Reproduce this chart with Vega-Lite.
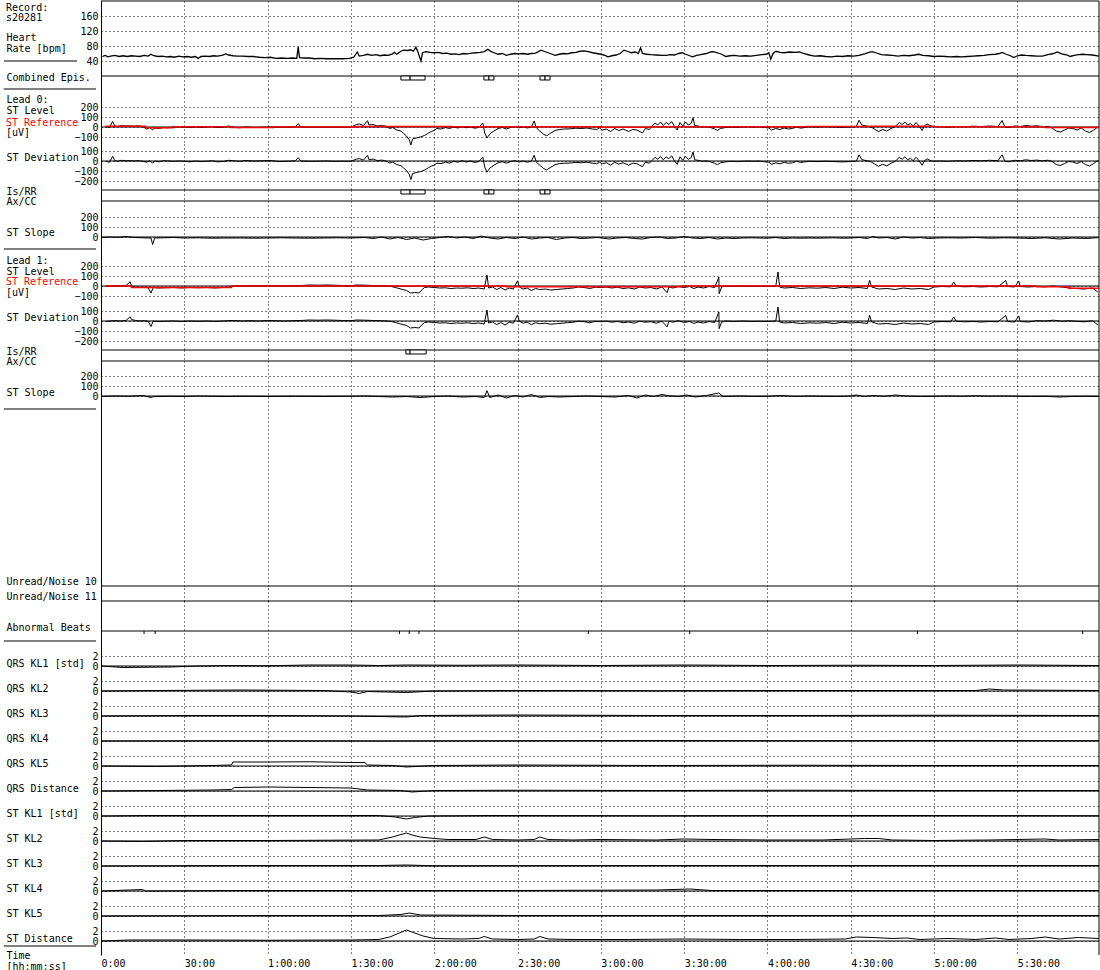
{
"$schema": "https://vega.github.io/schema/vega-lite/v6.json",
"background": "white",
"padding": {"left": 3, "top": 0, "right": 1, "bottom": 1},
"spacing": 0,
"bounds": "flush",
"config": {
 "view": {"stroke": null},
 "axisX": {"grid": true, "gridColor": "#000", "gridDash": [1,3], "gridOpacity": 1, "gridWidth": 1, "ticks": false, "domain": false, "labels": false, "tickCount": 50, "labelFont": "DejaVu Sans Mono", "labelFontSize": 10, "labelColor": "#000", "titleFont": "DejaVu Sans Mono", "titleFontSize": 10, "titleFontWeight": "normal", "titleColor": "#000"},
 "axisY": {"domainColor": "#000", "domainWidth": 1, "ticks": false, "grid": true, "gridColor": "#000", "gridDash": [1,3], "gridOpacity": 1, "gridWidth": 1, "tickCount": 50, "format": "d", "labelFont": "DejaVu Sans Mono", "labelFontSize": 10, "labelColor": "#000", "labelPadding": 3, "labelOverlap": false, "labelFlush": false, "titleFont": "DejaVu Sans Mono", "titleFontSize": 10, "titleFontWeight": "normal", "titleColor": "#000", "titleAngle": 0, "titleAlign": "left", "titleBaseline": "top", "titleX": -95, "titleLineHeight": 11},
 "text": {"font": "DejaVu Sans Mono", "fontSize": 10, "align": "left", "baseline": "middle", "color": "#000"},
 "line": {"color": "#000", "strokeWidth": 1},
 "rule": {"color": "#000", "strokeWidth": 1}
},
"vconcat": [
{
 "width": 998, "height": 75, "data": {"values": [{}]},
 "layer": [
  {"data": {"values": [
{"t":0.5,"v":52},{"t":1.5,"v":55},{"t":2.5,"v":51},{"t":3.5,"v":53},{"t":5,"v":55},{"t":6.5,"v":52},{"t":8,"v":54},{"t":9.5,"v":52},{"t":11,"v":54},{"t":12.5,"v":53},{"t":14,"v":52},{"t":15.5,"v":55},{"t":17,"v":53},{"t":18,"v":58},{"t":19,"v":54},{"t":20.5,"v":52},{"t":22,"v":53},{"t":23.5,"v":51},{"t":25,"v":52},{"t":26.5,"v":50},{"t":28,"v":53},{"t":29.5,"v":51},{"t":31,"v":52},{"t":32.5,"v":50},{"t":34,"v":52},{"t":35,"v":47},{"t":36,"v":52},{"t":37.5,"v":53},{"t":39,"v":52},{"t":40.5,"v":54},{"t":42,"v":53},{"t":43.5,"v":55},{"t":45,"v":59},{"t":46,"v":56},{"t":47.5,"v":54},{"t":49,"v":53},{"t":51,"v":53},{"t":53,"v":52},{"t":55,"v":52},{"t":57,"v":50},{"t":59,"v":49},{"t":61,"v":50},{"t":63,"v":47},{"t":65,"v":48},{"t":67,"v":47},{"t":69,"v":48},{"t":70.5,"v":47},{"t":71,"v":77},{"t":71.5,"v":49},{"t":73,"v":48},{"t":75,"v":48},{"t":77,"v":46},{"t":79,"v":47},{"t":81,"v":46},{"t":83,"v":46},{"t":85,"v":46},{"t":87,"v":46},{"t":89.5,"v":47},{"t":91,"v":50},{"t":92.3,"v":64},{"t":93,"v":53},{"t":94.5,"v":55},{"t":96,"v":58},{"t":97.5,"v":55},{"t":99,"v":57},{"t":100.5,"v":54},{"t":102,"v":56},{"t":103.5,"v":55},{"t":105,"v":59},{"t":105.7,"v":63},{"t":106.5,"v":58},{"t":108,"v":66},{"t":109,"v":69},{"t":110.5,"v":68},{"t":111.5,"v":70},{"t":112.5,"v":66},{"t":113.4,"v":77},{"t":114,"v":67},{"t":115.2,"v":40},{"t":115.8,"v":62},{"t":117,"v":65},{"t":118.5,"v":63},{"t":120,"v":62},{"t":121.5,"v":63},{"t":123,"v":60},{"t":124.5,"v":61},{"t":126,"v":58},{"t":127.5,"v":59},{"t":129,"v":57},{"t":130.5,"v":60},{"t":132,"v":59},{"t":133.5,"v":61},{"t":135,"v":62},{"t":136.5,"v":63},{"t":138,"v":65},{"t":139.3,"v":71},{"t":140.5,"v":65},{"t":141.6,"v":62},{"t":143,"v":58},{"t":144.5,"v":60},{"t":146,"v":55},{"t":147.5,"v":58},{"t":149,"v":60},{"t":150.5,"v":59},{"t":152,"v":60},{"t":153.5,"v":58},{"t":155,"v":60},{"t":156.5,"v":61},{"t":157.5,"v":65},{"t":158.4,"v":69},{"t":159.5,"v":66},{"t":161,"v":62},{"t":162.5,"v":58},{"t":163.5,"v":55},{"t":165,"v":58},{"t":166.5,"v":60},{"t":168,"v":59},{"t":169.5,"v":62},{"t":171,"v":63},{"t":172.5,"v":66},{"t":174,"v":67},{"t":175.5,"v":65},{"t":177,"v":62},{"t":178.5,"v":60},{"t":180,"v":58},{"t":181.5,"v":55},{"t":182.5,"v":51},{"t":184,"v":54},{"t":185.5,"v":56},{"t":187,"v":60},{"t":188.3,"v":69},{"t":189.5,"v":66},{"t":191,"v":62},{"t":192.5,"v":64},{"t":193.5,"v":60},{"t":194.3,"v":75},{"t":195,"v":60},{"t":196.5,"v":58},{"t":198,"v":57},{"t":200,"v":56},{"t":202,"v":55},{"t":203.5,"v":55},{"t":205,"v":57},{"t":206.5,"v":56},{"t":208,"v":60},{"t":209.3,"v":62},{"t":210.5,"v":58},{"t":212,"v":54},{"t":213,"v":51},{"t":214.5,"v":55},{"t":216,"v":57},{"t":218,"v":60},{"t":219.5,"v":64},{"t":220.5,"v":65},{"t":222,"v":62},{"t":223.5,"v":58},{"t":225,"v":52},{"t":226.5,"v":54},{"t":228,"v":55},{"t":230,"v":53},{"t":232,"v":54},{"t":234,"v":53},{"t":236,"v":55},{"t":238,"v":57},{"t":239.5,"v":58},{"t":240.5,"v":62},{"t":241.2,"v":45},{"t":242,"v":60},{"t":243,"v":66},{"t":244.5,"v":63},{"t":246,"v":62},{"t":248,"v":64},{"t":250,"v":63},{"t":251.5,"v":64},{"t":253,"v":60},{"t":255,"v":56},{"t":257,"v":53},{"t":259,"v":54},{"t":261,"v":52},{"t":263,"v":51},{"t":265,"v":53},{"t":267,"v":52},{"t":269,"v":54},{"t":271,"v":53},{"t":273,"v":55},{"t":275,"v":59},{"t":276.5,"v":63},{"t":277.7,"v":65},{"t":279,"v":62},{"t":281,"v":57},{"t":283,"v":56},{"t":285,"v":55},{"t":287,"v":53},{"t":289,"v":55},{"t":291,"v":54},{"t":293,"v":56},{"t":294.5,"v":58},{"t":296,"v":55},{"t":298,"v":54},{"t":300,"v":52},{"t":302,"v":53},{"t":304,"v":52},{"t":306,"v":51},{"t":308,"v":52},{"t":310,"v":51},{"t":312,"v":52},{"t":314,"v":53},{"t":316,"v":54},{"t":318,"v":55},{"t":320,"v":57},{"t":322,"v":58},{"t":323.5,"v":60},{"t":324.5,"v":63},{"t":326,"v":58},{"t":327.5,"v":54},{"t":328.7,"v":49},{"t":330,"v":54},{"t":331.5,"v":56},{"t":333,"v":55},{"t":335,"v":54},{"t":337,"v":53},{"t":339,"v":53},{"t":341,"v":57},{"t":343,"v":60},{"t":344.4,"v":64},{"t":346,"v":59},{"t":348,"v":56},{"t":349,"v":52},{"t":350.5,"v":55},{"t":352,"v":57},{"t":353.4,"v":58},{"t":355,"v":57},{"t":357,"v":56},{"t":359.4,"v":53}
  ]}, "mark": {"type": "line", "strokeWidth": 1.3}, "encoding": {"x": {"field": "t", "type": "quantitative"}, "y": {"field": "v", "type": "quantitative", "scale": {"domain": [0,200], "nice": false, "zero": false}, "axis": {"values": [160,120,80,40], "tickCount": 50, "title": ["Heart","Rate [bpm]"], "titleY": 31.5, "titleLineHeight": 10.5}}}},
  {"mark": "rule", "encoding": {"x": {"datum": 359.4, "type": "quantitative", "scale": {"domain": [0,359.4], "nice": false}, "axis": {"values": [0,30,60,90,120,150,180,210,240,270,300,330], "title": null}}}},
  {"mark": "rule", "encoding": {"y": {"datum": 200}}},
  {"mark": "rule", "encoding": {"y": {"datum": 0}}},
  {"mark": "rule", "encoding": {"x": {"datum": -35}, "x2": {"datum": -8.64}, "y": {"datum": 40}}},
  {"mark": "text", "encoding": {"x": {"datum": -34.2}, "y": {"datum": 182}, "text": {"value": "Record:"}}},
  {"mark": "text", "encoding": {"x": {"datum": -34.2}, "y": {"datum": 155}, "text": {"value": "s20281"}}}
 ]
},
{
 "width": 998, "height": 13, "data": {"values": [{}]},
 "layer": [
  {"mark": "rule", "encoding": {"x": {"datum": 359.4, "type": "quantitative", "scale": {"domain": [0,359.4], "nice": false}, "axis": {"values": [0,30,60,90,120,150,180,210,240,270,300,330], "title": null}}}},
  {"mark": "rule", "encoding": {"x": {"datum": -35}, "x2": {"datum": -1.8}, "y": {"datum": -13, "type": "quantitative", "scale": {"domain": [-13,0], "nice": false}, "axis": {"values": [], "labels": false, "grid": false, "title": "Combined Epis.", "titleY": -4}}}},
  {"data": {"values": [{"s":108,"e":111.3},{"s":111.3,"e":116.7},{"s":137.9,"e":139.7},{"s":139.7,"e":141.5},{"s":158.1,"e":159.9},{"s":159.9,"e":161.7}]}, "mark": {"type": "rect", "fill": "#fff", "stroke": "#000", "strokeWidth": 1}, "encoding": {"x": {"field": "s", "type": "quantitative"}, "x2": {"field": "e"}, "y": {"datum": 0}, "y2": {"datum": -4}}}
 ]
},
{
 "width": 998, "height": 55, "data": {"values": [{}]},
 "layer": [
  {"mark": "rule", "encoding": {"x": {"datum": 359.4, "type": "quantitative", "scale": {"domain": [0,359.4], "nice": false}, "axis": {"values": [0,30,60,90,120,150,180,210,240,270,300,330], "title": null}}}},
  {"mark": "rule", "encoding": {"y": {"datum": 0, "type": "quantitative", "scale": {"domain": [-170,380], "nice": false}, "axis": {"values": [200,100,0,-100], "tickCount": 50, "title": ["Lead 0:","ST Level"], "titleY": 5, "titleLineHeight": 11.5}}}},
  {"data": {"name": "lead0"}, "mark": "line", "encoding": {"x": {"field": "t", "type": "quantitative"}, "y": {"field": "a", "type": "quantitative"}}},
  {"data": {"values": [{"t":1.5,"v":8},{"t":16,"v":-8},{"t":26,"v":3},{"t":47,"v":-5},{"t":62,"v":0},{"t":92,"v":6},{"t":126,"v":2},{"t":180,"v":-3},{"t":198,"v":3},{"t":254,"v":6},{"t":277,"v":8},{"t":300,"v":3},{"t":340,"v":-5},{"t":359.4,"v":-5}]}, "mark": {"type": "line", "color": "#ff0000", "strokeWidth": 1.5, "interpolate": "step-after"}, "encoding": {"x": {"field": "t", "type": "quantitative"}, "y": {"field": "v", "type": "quantitative"}}},
  {"mark": {"type": "text", "color": "#ff0000"}, "encoding": {"x": {"datum": -34.2}, "y": {"datum": 40}, "text": {"value": "ST Reference"}}},
  {"mark": "text", "encoding": {"x": {"datum": -34.2}, "y": {"datum": -60}, "text": {"value": "[uV]"}}}
 ]
},
{
 "width": 998, "height": 46, "data": {"values": [{}]},
 "layer": [
  {"mark": "rule", "encoding": {"x": {"datum": 359.4, "type": "quantitative", "scale": {"domain": [0,359.4], "nice": false}, "axis": {"values": [0,30,60,90,120,150,180,210,240,270,300,330], "title": null}}}},
  {"mark": "rule", "encoding": {"y": {"datum": 0, "type": "quantitative", "scale": {"domain": [-290,170], "nice": false}, "axis": {"values": [100,0,-100,-200], "tickCount": 50, "title": "ST Deviation", "titleY": 8}}}},
  {"data": {"name": "lead0"}, "mark": "line", "encoding": {"x": {"field": "t", "type": "quantitative"}, "y": {"field": "d", "type": "quantitative"}}}
 ]
},
{
 "width": 998, "height": 11, "data": {"values": [{}]},
 "layer": [
  {"mark": "rule", "encoding": {"x": {"datum": 359.4, "type": "quantitative", "scale": {"domain": [0,359.4], "nice": false}, "axis": {"values": [0,30,60,90,120,150,180,210,240,270,300,330], "title": null}}}},
  {"mark": "rule", "encoding": {"y": {"datum": 0, "type": "quantitative", "scale": {"domain": [-11,0], "nice": false}, "axis": {"values": [], "labels": false, "grid": false, "title": ["Is/RR","Ax/CC"], "titleY": -4, "titleLineHeight": 10}}}},
  {"mark": "rule", "encoding": {"y": {"datum": -11}}},
  {"data": {"values": [{"s":108,"e":111.3},{"s":111.3,"e":116.7},{"s":137.9,"e":139.7},{"s":139.7,"e":141.5},{"s":158.1,"e":159.9},{"s":159.9,"e":161.7}]}, "mark": {"type": "rect", "fill": "#fff", "stroke": "#000", "strokeWidth": 1}, "encoding": {"x": {"field": "s", "type": "quantitative"}, "x2": {"field": "e"}, "y": {"datum": 0}, "y2": {"datum": -4}}}
 ]
},
{
 "width": 998, "height": 48, "data": {"values": [{}]},
 "layer": [
  {"mark": "rule", "encoding": {"x": {"datum": 359.4, "type": "quantitative", "scale": {"domain": [0,359.4], "nice": false}, "axis": {"values": [0,30,60,90,120,150,180,210,240,270,300,330], "title": null}}}},
  {"mark": "rule", "encoding": {"y": {"datum": 0, "type": "quantitative", "scale": {"domain": [-120,360], "nice": false}, "axis": {"values": [200,100,0], "tickCount": 50, "title": "ST Slope", "titleY": 26}}}},
  {"mark": "rule", "encoding": {"x": {"datum": -35}, "x2": {"datum": -1.8}, "y": {"datum": -120}}},
  {"data": {"values": [
{"t":0,"v":-5},{"t":3,"v":0},{"t":6,"v":-3},{"t":9,"v":5},{"t":12,"v":-5},{"t":15,"v":-8},{"t":18,"v":-10},{"t":18.6,"v":-75},{"t":19.3,"v":-10},{"t":22,"v":-8},{"t":26,"v":-5},{"t":30,"v":-10},{"t":35,"v":-8},{"t":40,"v":-12},{"t":45,"v":-10},{"t":50,"v":-10},{"t":55,"v":-12},{"t":60,"v":-10},{"t":65,"v":-8},{"t":70,"v":-10},{"t":75,"v":-12},{"t":80,"v":-10},{"t":85,"v":-8},{"t":90,"v":-10},{"t":95,"v":-5},{"t":98,"v":-15},{"t":101,"v":0},{"t":104,"v":-20},{"t":107,"v":-5},{"t":110,"v":-25},{"t":113,"v":-10},{"t":116,"v":-30},{"t":119,"v":-15},{"t":122,"v":-5},{"t":125,"v":5},{"t":128,"v":-10},{"t":131,"v":0},{"t":134,"v":-15},{"t":137,"v":10},{"t":140,"v":-10},{"t":143,"v":-20},{"t":146,"v":-5},{"t":149,"v":-15},{"t":152,"v":0},{"t":155,"v":-20},{"t":158,"v":-10},{"t":161,"v":-5},{"t":164,"v":-25},{"t":167,"v":-10},{"t":170,"v":-5},{"t":173,"v":-15},{"t":176,"v":-10},{"t":179,"v":-5},{"t":183,"v":-20},{"t":186,"v":-10},{"t":189,"v":-5},{"t":192,"v":-15},{"t":195,"v":-20},{"t":198,"v":-5},{"t":201,"v":0},{"t":204,"v":-15},{"t":207,"v":-10},{"t":210,"v":5},{"t":213,"v":-10},{"t":216,"v":-15},{"t":219,"v":-5},{"t":222,"v":-20},{"t":225,"v":-10},{"t":228,"v":-15},{"t":231,"v":-10},{"t":234,"v":-8},{"t":237,"v":-10},{"t":240,"v":-12},{"t":243,"v":-5},{"t":246,"v":-15},{"t":249,"v":-10},{"t":252,"v":-12},{"t":255,"v":-10},{"t":258,"v":-12},{"t":261,"v":-10},{"t":264,"v":-8},{"t":267,"v":-12},{"t":270,"v":-10},{"t":273,"v":-5},{"t":276,"v":-15},{"t":278,"v":5},{"t":280,"v":-10},{"t":283,"v":-5},{"t":286,"v":-20},{"t":289,"v":0},{"t":292,"v":-10},{"t":295,"v":-5},{"t":298,"v":-15},{"t":301,"v":-10},{"t":305,"v":-8},{"t":310,"v":-10},{"t":315,"v":-5},{"t":320,"v":-12},{"t":325,"v":-8},{"t":330,"v":-10},{"t":335,"v":-15},{"t":340,"v":-8},{"t":345,"v":-20},{"t":350,"v":-10},{"t":355,"v":-15},{"t":359.4,"v":-5}
  ]}, "mark": "line", "encoding": {"x": {"field": "t", "type": "quantitative"}, "y": {"field": "v", "type": "quantitative"}}}
 ]
},
{
 "width": 998, "height": 55, "data": {"values": [{}]},
 "layer": [
  {"mark": "rule", "encoding": {"x": {"datum": 359.4, "type": "quantitative", "scale": {"domain": [0,359.4], "nice": false}, "axis": {"values": [0,30,60,90,120,150,180,210,240,270,300,330], "title": null}}}},
  {"mark": "rule", "encoding": {"y": {"datum": 0, "type": "quantitative", "scale": {"domain": [-180,370], "nice": false}, "axis": {"values": [200,100,0,-100], "tickCount": 50, "title": ["Lead 1:","ST Level"], "titleY": 6, "titleLineHeight": 11.5}}}},
  {"data": {"name": "lead1"}, "mark": "line", "encoding": {"x": {"field": "t", "type": "quantitative"}, "y": {"field": "a", "type": "quantitative"}}},
  {"data": {"values": [{"t":1.5,"v":0},{"t":11,"v":-15},{"t":47,"v":0},{"t":146,"v":-8},{"t":209,"v":0},{"t":337,"v":-8},{"t":348.6,"v":-22},{"t":359.4,"v":-22}]}, "mark": {"type": "line", "color": "#ff0000", "strokeWidth": 1.5, "interpolate": "step-after"}, "encoding": {"x": {"field": "t", "type": "quantitative"}, "y": {"field": "v", "type": "quantitative"}}},
  {"mark": {"type": "text", "color": "#ff0000"}, "encoding": {"x": {"datum": -34.2}, "y": {"datum": 40}, "text": {"value": "ST Reference"}}},
  {"mark": "text", "encoding": {"x": {"datum": -34.2}, "y": {"datum": -70}, "text": {"value": "[uV]"}}}
 ]
},
{
 "width": 998, "height": 46, "data": {"values": [{}]},
 "layer": [
  {"mark": "rule", "encoding": {"x": {"datum": 359.4, "type": "quantitative", "scale": {"domain": [0,359.4], "nice": false}, "axis": {"values": [0,30,60,90,120,150,180,210,240,270,300,330], "title": null}}}},
  {"mark": "rule", "encoding": {"y": {"datum": 0, "type": "quantitative", "scale": {"domain": [-290,170], "nice": false}, "axis": {"values": [100,0,-100,-200], "tickCount": 50, "title": "ST Deviation", "titleY": 8}}}},
  {"data": {"name": "lead1"}, "mark": "line", "encoding": {"x": {"field": "t", "type": "quantitative"}, "y": {"field": "d", "type": "quantitative"}}}
 ]
},
{
 "width": 998, "height": 11, "data": {"values": [{}]},
 "layer": [
  {"mark": "rule", "encoding": {"x": {"datum": 359.4, "type": "quantitative", "scale": {"domain": [0,359.4], "nice": false}, "axis": {"values": [0,30,60,90,120,150,180,210,240,270,300,330], "title": null}}}},
  {"mark": "rule", "encoding": {"y": {"datum": 0, "type": "quantitative", "scale": {"domain": [-11,0], "nice": false}, "axis": {"values": [], "labels": false, "grid": false, "title": ["Is/RR","Ax/CC"], "titleY": -4, "titleLineHeight": 10}}}},
  {"mark": "rule", "encoding": {"y": {"datum": -11}}},
  {"data": {"values": [{"s":109.8,"e":111.3},{"s":111.3,"e":117.1}]}, "mark": {"type": "rect", "fill": "#fff", "stroke": "#000", "strokeWidth": 1}, "encoding": {"x": {"field": "s", "type": "quantitative"}, "x2": {"field": "e"}, "y": {"datum": 0}, "y2": {"datum": -4}}}
 ]
},
{
 "width": 998, "height": 48, "data": {"values": [{}]},
 "layer": [
  {"mark": "rule", "encoding": {"x": {"datum": 359.4, "type": "quantitative", "scale": {"domain": [0,359.4], "nice": false}, "axis": {"values": [0,30,60,90,120,150,180,210,240,270,300,330], "title": null}}}},
  {"mark": "rule", "encoding": {"y": {"datum": 0, "type": "quantitative", "scale": {"domain": [-130,350], "nice": false}, "axis": {"values": [200,100,0], "tickCount": 50, "title": "ST Slope", "titleY": 26}}}},
  {"mark": "rule", "encoding": {"x": {"datum": -35}, "x2": {"datum": -1.8}, "y": {"datum": -130}}},
  {"data": {"values": [
{"t":0,"v":-5},{"t":5,"v":0},{"t":10,"v":-3},{"t":15,"v":5},{"t":18,"v":-15},{"t":19,"v":-5},{"t":25,"v":-3},{"t":30,"v":-5},{"t":35,"v":0},{"t":40,"v":-3},{"t":45,"v":-5},{"t":50,"v":-3},{"t":60,"v":-5},{"t":70,"v":-3},{"t":80,"v":-5},{"t":90,"v":-3},{"t":95,"v":0},{"t":100,"v":-5},{"t":105,"v":-10},{"t":110,"v":-5},{"t":115,"v":-15},{"t":120,"v":-5},{"t":125,"v":0},{"t":130,"v":-10},{"t":135,"v":-5},{"t":138,"v":-15},{"t":139,"v":53},{"t":140,"v":-15},{"t":143,"v":10},{"t":146,"v":-20},{"t":149,"v":5},{"t":152,"v":-10},{"t":155,"v":15},{"t":158,"v":-15},{"t":161,"v":-5},{"t":165,"v":-10},{"t":170,"v":-5},{"t":175,"v":0},{"t":180,"v":-5},{"t":185,"v":-10},{"t":190,"v":5},{"t":193,"v":-20},{"t":196,"v":10},{"t":199,"v":-5},{"t":202,"v":15},{"t":205,"v":0},{"t":208,"v":-5},{"t":211,"v":10},{"t":214,"v":-10},{"t":218,"v":5},{"t":222.5,"v":30},{"t":224,"v":-5},{"t":230,"v":0},{"t":235,"v":-5},{"t":240,"v":-3},{"t":245,"v":5},{"t":250,"v":-5},{"t":255,"v":0},{"t":260,"v":-3},{"t":265,"v":-5},{"t":270,"v":0},{"t":272,"v":10},{"t":275,"v":-5},{"t":278,"v":5},{"t":282,"v":-3},{"t":286,"v":10},{"t":290,"v":0},{"t":295,"v":-5},{"t":300,"v":-3},{"t":305,"v":0},{"t":310,"v":-3},{"t":315,"v":2},{"t":320,"v":-2},{"t":325,"v":0},{"t":330,"v":-3},{"t":335,"v":-5},{"t":340,"v":-3},{"t":345,"v":-10},{"t":350,"v":-5},{"t":355,"v":-3},{"t":359.4,"v":-5}
  ]}, "mark": "line", "encoding": {"x": {"field": "t", "type": "quantitative"}, "y": {"field": "v", "type": "quantitative"}}}
 ]
},
{
 "width": 998, "height": 177, "data": {"values": [{}]},
 "layer": [
  {"mark": "rule", "encoding": {"x": {"datum": 359.4, "type": "quantitative", "scale": {"domain": [0,359.4], "nice": false}, "axis": {"values": [0,30,60,90,120,150,180,210,240,270,300,330], "title": null}}}},
  {"mark": "rule", "encoding": {"y": {"datum": 0, "type": "quantitative", "scale": {"domain": [0,1], "nice": false}, "axis": {"values": [], "labels": false, "grid": false, "title": "Unread/Noise 10", "titleY": 167}}}}
 ]
},
{
 "width": 998, "height": 15, "data": {"values": [{}]},
 "layer": [
  {"mark": "rule", "encoding": {"x": {"datum": 359.4, "type": "quantitative", "scale": {"domain": [0,359.4], "nice": false}, "axis": {"values": [0,30,60,90,120,150,180,210,240,270,300,330], "title": null}}}},
  {"mark": "rule", "encoding": {"y": {"datum": 0, "type": "quantitative", "scale": {"domain": [0,1], "nice": false}, "axis": {"values": [], "labels": false, "grid": false, "title": "Unread/Noise 11", "titleY": 5}}}}
 ]
},
{
 "width": 998, "height": 40, "data": {"values": [{}]},
 "layer": [
  {"mark": "rule", "encoding": {"x": {"datum": 359.4, "type": "quantitative", "scale": {"domain": [0,359.4], "nice": false}, "axis": {"values": [0,30,60,90,120,150,180,210,240,270,300,330], "title": null}}}},
  {"mark": "rule", "encoding": {"y": {"datum": 0, "type": "quantitative", "scale": {"domain": [-10,30], "nice": false}, "axis": {"values": [], "labels": false, "grid": false, "title": "Abnormal Beats", "titleY": 21}}}},
  {"mark": "rule", "encoding": {"x": {"datum": -35}, "x2": {"datum": -1.8}, "y": {"datum": -10}}},
  {"data": {"values": [{"t":15.5},{"t":19.5},{"t":107.5},{"t":111},{"t":114.5},{"t":175.5},{"t":212},{"t":294},{"t":353.5}]}, "mark": "rule", "encoding": {"x": {"field": "t", "type": "quantitative"}, "y": {"datum": 0}, "y2": {"datum": -3}}}
 ]
},
{
 "width": 998, "height": 25, "data": {"values": [{}]},
 "layer": [
  {"mark": "rule", "encoding": {"x": {"datum": 359.4, "type": "quantitative", "scale": {"domain": [0,359.4], "nice": false}, "axis": {"values": [0,30,60,90,120,150,180,210,240,270,300,330], "title": null}}}},
  {"mark": "rule", "encoding": {"y": {"datum": 0, "type": "quantitative", "scale": {"domain": [0,5], "nice": false}, "axis": {"values": [2,0], "tickCount": 50, "title": "QRS KL1 [std]", "titleY": 17}}}},
  {"data": {"values": [{"t":0,"v":0},{"t":8,"v":-0.3},{"t":25,"v":-0.2},{"t":35,"v":0},{"t":45,"v":0.1},{"t":60,"v":0.05},{"t":75,"v":0.2},{"t":90,"v":0.2},{"t":100,"v":0.1},{"t":110,"v":0.2},{"t":130,"v":0.15},{"t":150,"v":0.2},{"t":180,"v":0.1},{"t":210,"v":0.2},{"t":240,"v":0.1},{"t":270,"v":0.15},{"t":300,"v":0.1},{"t":330,"v":0.2},{"t":359.4,"v":0.1}]}, "mark": "line", "encoding": {"x": {"field": "t", "type": "quantitative"}, "y": {"field": "v", "type": "quantitative"}}}
 ]
},
{
 "width": 998, "height": 25, "data": {"values": [{}]},
 "layer": [
  {"mark": "rule", "encoding": {"x": {"datum": 359.4, "type": "quantitative", "scale": {"domain": [0,359.4], "nice": false}, "axis": {"values": [0,30,60,90,120,150,180,210,240,270,300,330], "title": null}}}},
  {"mark": "rule", "encoding": {"y": {"datum": 0, "type": "quantitative", "scale": {"domain": [0,5], "nice": false}, "axis": {"values": [2,0], "tickCount": 50, "title": "QRS KL2", "titleY": 17}}}},
  {"data": {"values": [{"t":0,"v":0},{"t":20,"v":0.1},{"t":50,"v":0.2},{"t":80,"v":0.1},{"t":90,"v":-0.2},{"t":93,"v":-0.5},{"t":96,"v":-0.1},{"t":110,"v":-0.3},{"t":120,"v":0},{"t":150,"v":0.1},{"t":200,"v":0.05},{"t":250,"v":0.1},{"t":300,"v":0.1},{"t":315,"v":0.1},{"t":320,"v":0.4},{"t":325,"v":0.2},{"t":359.4,"v":0.1}]}, "mark": "line", "encoding": {"x": {"field": "t", "type": "quantitative"}, "y": {"field": "v", "type": "quantitative"}}}
 ]
},
{
 "width": 998, "height": 25, "data": {"values": [{}]},
 "layer": [
  {"mark": "rule", "encoding": {"x": {"datum": 359.4, "type": "quantitative", "scale": {"domain": [0,359.4], "nice": false}, "axis": {"values": [0,30,60,90,120,150,180,210,240,270,300,330], "title": null}}}},
  {"mark": "rule", "encoding": {"y": {"datum": 0, "type": "quantitative", "scale": {"domain": [0,5], "nice": false}, "axis": {"values": [2,0], "tickCount": 50, "title": "QRS KL3", "titleY": 17}}}},
  {"data": {"values": [{"t":0,"v":0},{"t":30,"v":0.1},{"t":60,"v":0.1},{"t":90,"v":0},{"t":110,"v":-0.2},{"t":115,"v":0.1},{"t":150,"v":0.2},{"t":200,"v":0.1},{"t":250,"v":0.1},{"t":300,"v":0.15},{"t":359.4,"v":0.1}]}, "mark": "line", "encoding": {"x": {"field": "t", "type": "quantitative"}, "y": {"field": "v", "type": "quantitative"}}}
 ]
},
{
 "width": 998, "height": 25, "data": {"values": [{}]},
 "layer": [
  {"mark": "rule", "encoding": {"x": {"datum": 359.4, "type": "quantitative", "scale": {"domain": [0,359.4], "nice": false}, "axis": {"values": [0,30,60,90,120,150,180,210,240,270,300,330], "title": null}}}},
  {"mark": "rule", "encoding": {"y": {"datum": 0, "type": "quantitative", "scale": {"domain": [0,5], "nice": false}, "axis": {"values": [2,0], "tickCount": 50, "title": "QRS KL4", "titleY": 17}}}},
  {"data": {"values": [{"t":0,"v":0},{"t":50,"v":0.05},{"t":100,"v":0},{"t":150,"v":0.05},{"t":200,"v":0.1},{"t":250,"v":0.05},{"t":300,"v":0.1},{"t":359.4,"v":0.05}]}, "mark": "line", "encoding": {"x": {"field": "t", "type": "quantitative"}, "y": {"field": "v", "type": "quantitative"}}}
 ]
},
{
 "width": 998, "height": 25, "data": {"values": [{}]},
 "layer": [
  {"mark": "rule", "encoding": {"x": {"datum": 359.4, "type": "quantitative", "scale": {"domain": [0,359.4], "nice": false}, "axis": {"values": [0,30,60,90,120,150,180,210,240,270,300,330], "title": null}}}},
  {"mark": "rule", "encoding": {"y": {"datum": 0, "type": "quantitative", "scale": {"domain": [0,5], "nice": false}, "axis": {"values": [2,0], "tickCount": 50, "title": "QRS KL5", "titleY": 17}}}},
  {"data": {"values": [{"t":0,"v":0},{"t":20,"v":-0.1},{"t":40,"v":0.1},{"t":47,"v":0.2},{"t":47.5,"v":0.8},{"t":60,"v":0.8},{"t":75,"v":0.85},{"t":90,"v":0.7},{"t":95,"v":0.7},{"t":96,"v":0.2},{"t":105,"v":0.1},{"t":110,"v":-0.2},{"t":120,"v":0.1},{"t":150,"v":0.2},{"t":200,"v":0.1},{"t":250,"v":0.15},{"t":300,"v":0.1},{"t":359.4,"v":0.1}]}, "mark": "line", "encoding": {"x": {"field": "t", "type": "quantitative"}, "y": {"field": "v", "type": "quantitative"}}}
 ]
},
{
 "width": 998, "height": 25, "data": {"values": [{}]},
 "layer": [
  {"mark": "rule", "encoding": {"x": {"datum": 359.4, "type": "quantitative", "scale": {"domain": [0,359.4], "nice": false}, "axis": {"values": [0,30,60,90,120,150,180,210,240,270,300,330], "title": null}}}},
  {"mark": "rule", "encoding": {"y": {"datum": 0, "type": "quantitative", "scale": {"domain": [0,5], "nice": false}, "axis": {"values": [2,0], "tickCount": 50, "title": "QRS Distance", "titleY": 17}}}},
  {"data": {"values": [{"t":0,"v":0},{"t":20,"v":0.1},{"t":40,"v":0.2},{"t":47,"v":0.3},{"t":48,"v":0.7},{"t":60,"v":0.8},{"t":75,"v":0.7},{"t":90,"v":0.6},{"t":96,"v":0.2},{"t":108,"v":0.1},{"t":112,"v":-0.2},{"t":120,"v":0.1},{"t":150,"v":0.15},{"t":200,"v":0.1},{"t":250,"v":0.15},{"t":300,"v":0.1},{"t":359.4,"v":0.1}]}, "mark": "line", "encoding": {"x": {"field": "t", "type": "quantitative"}, "y": {"field": "v", "type": "quantitative"}}}
 ]
},
{
 "width": 998, "height": 25, "data": {"values": [{}]},
 "layer": [
  {"mark": "rule", "encoding": {"x": {"datum": 359.4, "type": "quantitative", "scale": {"domain": [0,359.4], "nice": false}, "axis": {"values": [0,30,60,90,120,150,180,210,240,270,300,330], "title": null}}}},
  {"mark": "rule", "encoding": {"y": {"datum": 0, "type": "quantitative", "scale": {"domain": [0,5], "nice": false}, "axis": {"values": [2,0], "tickCount": 50, "title": "ST KL1 [std]", "titleY": 17}}}},
  {"data": {"values": [{"t":0,"v":0},{"t":15,"v":0.1},{"t":50,"v":0.1},{"t":100,"v":0.1},{"t":106,"v":-0.2},{"t":110,"v":-0.6},{"t":113,"v":-0.3},{"t":118,"v":0},{"t":140,"v":0.1},{"t":200,"v":0.05},{"t":250,"v":0.1},{"t":300,"v":0.1},{"t":359.4,"v":0.05}]}, "mark": "line", "encoding": {"x": {"field": "t", "type": "quantitative"}, "y": {"field": "v", "type": "quantitative"}}}
 ]
},
{
 "width": 998, "height": 25, "data": {"values": [{}]},
 "layer": [
  {"mark": "rule", "encoding": {"x": {"datum": 359.4, "type": "quantitative", "scale": {"domain": [0,359.4], "nice": false}, "axis": {"values": [0,30,60,90,120,150,180,210,240,270,300,330], "title": null}}}},
  {"mark": "rule", "encoding": {"y": {"datum": 0, "type": "quantitative", "scale": {"domain": [0,5], "nice": false}, "axis": {"values": [2,0], "tickCount": 50, "title": "ST KL2", "titleY": 17}}}},
  {"data": {"values": [{"t":0,"v":0},{"t":15,"v":-0.1},{"t":30,"v":0.1},{"t":60,"v":0.1},{"t":100,"v":0.2},{"t":105,"v":0.8},{"t":108,"v":1.3},{"t":110,"v":1.6},{"t":112,"v":1.2},{"t":115,"v":0.8},{"t":120,"v":0.5},{"t":125,"v":0.3},{"t":135,"v":0.3},{"t":138,"v":0.8},{"t":141,"v":0.3},{"t":150,"v":0.2},{"t":156,"v":0.3},{"t":158,"v":0.8},{"t":161,"v":0.3},{"t":170,"v":0.2},{"t":180,"v":0.3},{"t":200,"v":0.2},{"t":210,"v":0.4},{"t":220,"v":0.3},{"t":240,"v":0.2},{"t":260,"v":0.2},{"t":275,"v":0.5},{"t":280,"v":0.5},{"t":285,"v":0.2},{"t":300,"v":0.1},{"t":320,"v":0.2},{"t":340,"v":0.4},{"t":345,"v":0.2},{"t":359.4,"v":0.3}]}, "mark": "line", "encoding": {"x": {"field": "t", "type": "quantitative"}, "y": {"field": "v", "type": "quantitative"}}}
 ]
},
{
 "width": 998, "height": 25, "data": {"values": [{}]},
 "layer": [
  {"mark": "rule", "encoding": {"x": {"datum": 359.4, "type": "quantitative", "scale": {"domain": [0,359.4], "nice": false}, "axis": {"values": [0,30,60,90,120,150,180,210,240,270,300,330], "title": null}}}},
  {"mark": "rule", "encoding": {"y": {"datum": 0, "type": "quantitative", "scale": {"domain": [0,5], "nice": false}, "axis": {"values": [2,0], "tickCount": 50, "title": "ST KL3", "titleY": 17}}}},
  {"data": {"values": [{"t":0,"v":0},{"t":50,"v":0.1},{"t":100,"v":0.1},{"t":110,"v":0.2},{"t":120,"v":0.05},{"t":200,"v":0.1},{"t":300,"v":0.1},{"t":359.4,"v":0.1}]}, "mark": "line", "encoding": {"x": {"field": "t", "type": "quantitative"}, "y": {"field": "v", "type": "quantitative"}}}
 ]
},
{
 "width": 998, "height": 25, "data": {"values": [{}]},
 "layer": [
  {"mark": "rule", "encoding": {"x": {"datum": 359.4, "type": "quantitative", "scale": {"domain": [0,359.4], "nice": false}, "axis": {"values": [0,30,60,90,120,150,180,210,240,270,300,330], "title": null}}}},
  {"mark": "rule", "encoding": {"y": {"datum": 0, "type": "quantitative", "scale": {"domain": [0,5], "nice": false}, "axis": {"values": [2,0], "tickCount": 50, "title": "ST KL4", "titleY": 17}}}},
  {"data": {"values": [{"t":0,"v":0},{"t":15,"v":0.3},{"t":16,"v":0},{"t":50,"v":0.1},{"t":100,"v":0.1},{"t":150,"v":0.1},{"t":200,"v":0.2},{"t":212,"v":0.4},{"t":220,"v":0.1},{"t":270,"v":0.1},{"t":300,"v":0.1},{"t":359.4,"v":0.1}]}, "mark": "line", "encoding": {"x": {"field": "t", "type": "quantitative"}, "y": {"field": "v", "type": "quantitative"}}}
 ]
},
{
 "width": 998, "height": 25, "data": {"values": [{}]},
 "layer": [
  {"mark": "rule", "encoding": {"x": {"datum": 359.4, "type": "quantitative", "scale": {"domain": [0,359.4], "nice": false}, "axis": {"values": [0,30,60,90,120,150,180,210,240,270,300,330], "title": null}}}},
  {"mark": "rule", "encoding": {"y": {"datum": 0, "type": "quantitative", "scale": {"domain": [0,5], "nice": false}, "axis": {"values": [2,0], "tickCount": 50, "title": "ST KL5", "titleY": 17}}}},
  {"data": {"values": [{"t":0,"v":0},{"t":30,"v":0.05},{"t":60,"v":0.1},{"t":100,"v":0.1},{"t":108,"v":0.3},{"t":111,"v":0.6},{"t":115,"v":0.2},{"t":150,"v":0.1},{"t":200,"v":0.1},{"t":250,"v":0.1},{"t":300,"v":0.1},{"t":359.4,"v":0.1}]}, "mark": "line", "encoding": {"x": {"field": "t", "type": "quantitative"}, "y": {"field": "v", "type": "quantitative"}}}
 ]
},
{
 "width": 998, "height": 39, "data": {"values": [{}]},
 "layer": [
  {"mark": "rule", "encoding": {"x": {"datum": 359.4, "type": "quantitative", "scale": {"domain": [0,359.4], "nice": false}, "axis": {"values": [0,30,60,90,120,150,180,210,240,270,300,330], "labels": true, "labelAlign": "left", "labelBaseline": "top", "labelPadding": 3, "labelExpr": "datum.value == 0 ? '0:00' : datum.value < 60 ? '30:00' : floor(datum.value/60) + ':' + (datum.value % 60 == 0 ? '00' : '30') + ':00'", "title": ["Time","[hh:mm:ss]"], "titleAngle": 0, "titleAlign": "left", "titleBaseline": "top", "titleX": -95, "titleY": -5, "titleLineHeight": 11}}}},
  {"mark": "rule", "encoding": {"y": {"datum": 0, "type": "quantitative", "scale": {"domain": [-2.8,5], "nice": false}, "axis": {"values": [2,0], "tickCount": 50, "title": "ST Distance", "titleY": 17}}}},
  {"mark": "rule", "encoding": {"x": {"datum": -35}, "x2": {"datum": -1.8}, "y": {"datum": -1}}},
  {"data": {"values": [{"t":0,"v":0},{"t":10,"v":0.2},{"t":30,"v":0.2},{"t":60,"v":0.15},{"t":90,"v":0.2},{"t":100,"v":0.3},{"t":104,"v":0.8},{"t":107,"v":1.5},{"t":110,"v":2.2},{"t":113,"v":1.6},{"t":116,"v":1.0},{"t":120,"v":0.5},{"t":130,"v":0.4},{"t":136,"v":0.5},{"t":138,"v":0.9},{"t":141,"v":0.4},{"t":150,"v":0.3},{"t":156,"v":0.4},{"t":158,"v":0.9},{"t":161,"v":0.4},{"t":170,"v":0.3},{"t":190,"v":0.3},{"t":210,"v":0.4},{"t":230,"v":0.3},{"t":250,"v":0.3},{"t":268,"v":0.4},{"t":272,"v":0.8},{"t":278,"v":0.7},{"t":285,"v":0.5},{"t":290,"v":0.6},{"t":295,"v":0.3},{"t":305,"v":0.5},{"t":315,"v":0.3},{"t":322,"v":0.6},{"t":327,"v":0.3},{"t":335,"v":0.5},{"t":340,"v":0.8},{"t":345,"v":0.4},{"t":352,"v":0.7},{"t":359.4,"v":0.5}]}, "mark": "line", "encoding": {"x": {"field": "t", "type": "quantitative"}, "y": {"field": "v", "type": "quantitative"}}}
 ]
}
],
"datasets": {
"lead0": [
{"t":1.8,"a":5,"d":-3},{"t":3,"a":-5,"d":-13},{"t":4.2,"a":55,"d":47},{"t":5,"a":10,"d":2},{"t":6,"a":5,"d":-3},{"t":7.5,"a":15,"d":7},{"t":9,"a":10,"d":2},{"t":10.5,"a":12,"d":4},{"t":12,"a":8,"d":0},{"t":13.5,"a":12,"d":4},{"t":15,"a":5,"d":-3},{"t":16.5,"a":-20,"d":-12},{"t":17.5,"a":-5,"d":3},{"t":18.5,"a":-27,"d":-19},{"t":19.5,"a":-10,"d":-2},{"t":21,"a":-15,"d":-7},{"t":22.5,"a":-5,"d":3},{"t":24,"a":-8,"d":0},{"t":26,"a":0,"d":-3},{"t":28,"a":3,"d":0},{"t":30,"a":0,"d":-3},{"t":32,"a":-5,"d":-8},{"t":34,"a":2,"d":-1},{"t":36,"a":-3,"d":-6},{"t":38,"a":0,"d":-3},{"t":40,"a":5,"d":2},{"t":42,"a":-5,"d":-8},{"t":44,"a":-2,"d":-5},{"t":46,"a":10,"d":7},{"t":48,"a":-3,"d":2},{"t":50,"a":-8,"d":-3},{"t":52,"a":0,"d":5},{"t":55,"a":-5,"d":0},{"t":58,"a":-3,"d":2},{"t":61,"a":0,"d":5},{"t":64,"a":-5,"d":-5},{"t":67,"a":-3,"d":-3},{"t":70,"a":2,"d":2},{"t":71,"a":33,"d":33},{"t":72,"a":0,"d":0},{"t":75,"a":-3,"d":-3},{"t":78,"a":-2,"d":-2},{"t":81,"a":0,"d":0},{"t":84,"a":-3,"d":-3},{"t":87,"a":-2,"d":-2},{"t":90,"a":-3,"d":-3},{"t":92,"a":25,"d":19},{"t":93,"a":30,"d":24},{"t":94.5,"a":15,"d":9},{"t":96,"a":63,"d":57},{"t":96.5,"a":20,"d":14},{"t":98,"a":25,"d":19},{"t":99.5,"a":10,"d":4},{"t":101,"a":15,"d":9},{"t":102.5,"a":8,"d":2},{"t":104,"a":-15,"d":-21},{"t":105,"a":-5,"d":-11},{"t":106.5,"a":-30,"d":-36},{"t":108,"a":-40,"d":-46},{"t":109,"a":-65,"d":-71},{"t":110,"a":-90,"d":-96},{"t":111,"a":-127,"d":-133},{"t":111.6,"a":-180,"d":-186},{"t":112.2,"a":-120,"d":-126},{"t":113.5,"a":-110,"d":-116},{"t":115,"a":-100,"d":-106},{"t":116.5,"a":-85,"d":-91},{"t":118,"a":-60,"d":-66},{"t":119,"a":-45,"d":-51},{"t":120,"a":-35,"d":-41},{"t":121,"a":-15,"d":-21},{"t":122.5,"a":-20,"d":-26},{"t":124,"a":-5,"d":-11},{"t":125.5,"a":-15,"d":-21},{"t":127,"a":0,"d":-2},{"t":128.5,"a":-10,"d":-12},{"t":130,"a":5,"d":3},{"t":131.5,"a":-8,"d":-10},{"t":133,"a":2,"d":0},{"t":134.5,"a":-12,"d":-14},{"t":136,"a":-5,"d":-7},{"t":137.5,"a":40,"d":38},{"t":138.2,"a":-60,"d":-62},{"t":139,"a":-110,"d":-112},{"t":140,"a":-70,"d":-72},{"t":141.5,"a":-40,"d":-42},{"t":143,"a":-15,"d":-17},{"t":144.5,"a":-5,"d":-7},{"t":146,"a":-20,"d":-22},{"t":147.5,"a":-5,"d":-7},{"t":149,"a":5,"d":3},{"t":150.5,"a":-8,"d":-10},{"t":152,"a":2,"d":0},{"t":153.5,"a":-10,"d":-12},{"t":155,"a":0,"d":-2},{"t":156,"a":60,"d":58},{"t":156.8,"a":-10,"d":-12},{"t":158,"a":-40,"d":-42},{"t":159.5,"a":-75,"d":-77},{"t":160.5,"a":-87,"d":-89},{"t":162,"a":-60,"d":-62},{"t":163.5,"a":-35,"d":-37},{"t":165,"a":-25,"d":-27},{"t":167,"a":-20,"d":-22},{"t":169,"a":-18,"d":-20},{"t":171,"a":-12,"d":-14},{"t":173,"a":-15,"d":-17},{"t":175,"a":-10,"d":-12},{"t":177,"a":-20,"d":-22},{"t":178.5,"a":-25,"d":-27},{"t":179.5,"a":-10,"d":-12},{"t":180.5,"a":-30,"d":-27},{"t":182,"a":-20,"d":-17},{"t":183.5,"a":-45,"d":-42},{"t":185,"a":-15,"d":-12},{"t":186.5,"a":-35,"d":-32},{"t":188,"a":-20,"d":-17},{"t":190,"a":-45,"d":-42},{"t":191.5,"a":-25,"d":-22},{"t":193,"a":-30,"d":-27},{"t":195,"a":-60,"d":-57},{"t":196,"a":-15,"d":-12},{"t":197.5,"a":-25,"d":-22},{"t":198.5,"a":10,"d":7},{"t":199.5,"a":40,"d":37},{"t":200.5,"a":20,"d":17},{"t":201.5,"a":50,"d":47},{"t":202.5,"a":15,"d":12},{"t":203.5,"a":45,"d":42},{"t":204.5,"a":25,"d":22},{"t":205.5,"a":55,"d":52},{"t":206.5,"a":5,"d":2},{"t":207.5,"a":-30,"d":-33},{"t":208.5,"a":45,"d":42},{"t":209.5,"a":10,"d":7},{"t":210.5,"a":50,"d":47},{"t":211.5,"a":20,"d":17},{"t":212.5,"a":35,"d":32},{"t":213.2,"a":93,"d":90},{"t":213.8,"a":15,"d":12},{"t":215,"a":10,"d":7},{"t":216.5,"a":0,"d":-3},{"t":218,"a":5,"d":2},{"t":219.5,"a":-5,"d":-8},{"t":221,"a":-20,"d":-23},{"t":222,"a":-35,"d":-38},{"t":223,"a":-15,"d":-18},{"t":225,"a":-5,"d":-8},{"t":227,"a":0,"d":-3},{"t":229,"a":-3,"d":-6},{"t":231,"a":0,"d":-3},{"t":233,"a":3,"d":0},{"t":235,"a":0,"d":-3},{"t":237,"a":2,"d":-1},{"t":239,"a":-5,"d":-8},{"t":240.5,"a":-10,"d":-13},{"t":241.5,"a":-30,"d":-33},{"t":243,"a":-15,"d":-18},{"t":244.5,"a":-25,"d":-28},{"t":246,"a":-10,"d":-13},{"t":247.5,"a":-20,"d":-23},{"t":249,"a":-15,"d":-18},{"t":250.5,"a":0,"d":-3},{"t":252,"a":-12,"d":-15},{"t":253.5,"a":-5,"d":-8},{"t":255,"a":3,"d":-3},{"t":258,"a":0,"d":-6},{"t":261,"a":3,"d":-3},{"t":264,"a":0,"d":-6},{"t":267,"a":-3,"d":-9},{"t":270,"a":0,"d":-6},{"t":272,"a":5,"d":-1},{"t":273,"a":67,"d":61},{"t":274,"a":20,"d":14},{"t":275.5,"a":10,"d":4},{"t":277,"a":5,"d":-3},{"t":278.5,"a":-20,"d":-28},{"t":280,"a":-45,"d":-53},{"t":281.5,"a":-25,"d":-33},{"t":283,"a":-40,"d":-48},{"t":284.5,"a":-15,"d":-23},{"t":286,"a":5,"d":-3},{"t":287.5,"a":45,"d":37},{"t":288.5,"a":25,"d":17},{"t":289.5,"a":50,"d":42},{"t":290.5,"a":20,"d":12},{"t":291.5,"a":35,"d":27},{"t":292.5,"a":10,"d":2},{"t":293.5,"a":45,"d":37},{"t":294.5,"a":15,"d":7},{"t":295.7,"a":-35,"d":-43},{"t":296.5,"a":10,"d":2},{"t":297.5,"a":30,"d":22},{"t":298.5,"a":15,"d":7},{"t":299.5,"a":5,"d":-3},{"t":302,"a":3,"d":0},{"t":305,"a":0,"d":-3},{"t":308,"a":5,"d":2},{"t":311,"a":3,"d":0},{"t":314,"a":8,"d":5},{"t":317,"a":5,"d":2},{"t":320,"a":10,"d":7},{"t":323,"a":5,"d":2},{"t":324.5,"a":65,"d":62},{"t":325.5,"a":0,"d":-3},{"t":327,"a":-5,"d":-8},{"t":329,"a":10,"d":7},{"t":331,"a":5,"d":2},{"t":333,"a":15,"d":12},{"t":335,"a":8,"d":5},{"t":337,"a":12,"d":9},{"t":339,"a":5,"d":2},{"t":341,"a":3,"d":8},{"t":342.5,"a":-10,"d":-5},{"t":344,"a":-40,"d":-35},{"t":345.5,"a":-50,"d":-45},{"t":347,"a":-30,"d":-25},{"t":348.5,"a":-10,"d":-5},{"t":350,"a":-15,"d":-10},{"t":351.5,"a":-30,"d":-25},{"t":353,"a":-10,"d":-5},{"t":354.5,"a":-40,"d":-35},{"t":356,"a":-55,"d":-50},{"t":357.5,"a":-30,"d":-25},{"t":359,"a":0,"d":5}
],
"lead1": [
{"t":1.8,"a":-5,"d":-5},{"t":3,"a":0,"d":0},{"t":5,"a":3,"d":3},{"t":7,"a":0,"d":0},{"t":9,"a":5,"d":5},{"t":10.5,"a":43,"d":43},{"t":11,"a":0,"d":15},{"t":12.5,"a":-10,"d":5},{"t":14,"a":-15,"d":0},{"t":15.5,"a":-12,"d":3},{"t":17,"a":-18,"d":-3},{"t":18,"a":-70,"d":-55},{"t":18.8,"a":-15,"d":0},{"t":20.5,"a":-20,"d":-5},{"t":23,"a":-18,"d":-3},{"t":26,"a":-15,"d":0},{"t":29,"a":-20,"d":-5},{"t":32,"a":-15,"d":0},{"t":35,"a":-18,"d":-3},{"t":38,"a":-15,"d":0},{"t":41,"a":-20,"d":-5},{"t":44,"a":-15,"d":0},{"t":46.8,"a":-10,"d":5},{"t":48,"a":5,"d":5},{"t":51,"a":0,"d":0},{"t":54,"a":3,"d":3},{"t":57,"a":0,"d":0},{"t":60,"a":5,"d":5},{"t":63,"a":3,"d":3},{"t":66,"a":0,"d":0},{"t":69,"a":3,"d":3},{"t":72,"a":5,"d":5},{"t":75,"a":10,"d":10},{"t":78,"a":8,"d":8},{"t":81,"a":10,"d":10},{"t":84,"a":8,"d":8},{"t":87,"a":5,"d":5},{"t":90,"a":3,"d":3},{"t":92,"a":10,"d":10},{"t":95,"a":8,"d":8},{"t":98,"a":5,"d":5},{"t":101,"a":3,"d":3},{"t":103,"a":0,"d":0},{"t":104.5,"a":-5,"d":-5},{"t":106,"a":-15,"d":-15},{"t":108,"a":-30,"d":-30},{"t":110,"a":-45,"d":-45},{"t":111.5,"a":-70,"d":-70},{"t":113,"a":-65,"d":-65},{"t":114.5,"a":-70,"d":-70},{"t":115.5,"a":-40,"d":-40},{"t":116.5,"a":-15,"d":-15},{"t":118,"a":-10,"d":-10},{"t":120,"a":-15,"d":-15},{"t":122,"a":-20,"d":-20},{"t":124,"a":-18,"d":-18},{"t":126,"a":-25,"d":-25},{"t":128,"a":-20,"d":-20},{"t":130,"a":-22,"d":-22},{"t":132,"a":-18,"d":-18},{"t":134,"a":-25,"d":-25},{"t":136,"a":-20,"d":-20},{"t":138,"a":-30,"d":-30},{"t":139,"a":110,"d":110},{"t":139.6,"a":-20,"d":-20},{"t":141,"a":-10,"d":-10},{"t":142.5,"a":-35,"d":-35},{"t":144,"a":-15,"d":-15},{"t":145.5,"a":-40,"d":-40},{"t":147,"a":-20,"d":-12},{"t":148.5,"a":-30,"d":-22},{"t":150,"a":53,"d":61},{"t":150.6,"a":-10,"d":-2},{"t":152,"a":-30,"d":-22},{"t":153.5,"a":-20,"d":-12},{"t":155,"a":-45,"d":-37},{"t":156.5,"a":-25,"d":-17},{"t":158,"a":-35,"d":-27},{"t":160,"a":-30,"d":-22},{"t":162,"a":-40,"d":-32},{"t":164,"a":-35,"d":-27},{"t":166,"a":-30,"d":-22},{"t":168,"a":-25,"d":-17},{"t":170,"a":-20,"d":-12},{"t":172,"a":-10,"d":-2},{"t":174,"a":-15,"d":-7},{"t":176,"a":-25,"d":-17},{"t":178,"a":-12,"d":-4},{"t":180,"a":-15,"d":-7},{"t":182,"a":-10,"d":-2},{"t":184,"a":-20,"d":-12},{"t":186,"a":-12,"d":-4},{"t":188,"a":-25,"d":-17},{"t":190,"a":-18,"d":-10},{"t":192,"a":-30,"d":-22},{"t":194,"a":-10,"d":-2},{"t":196,"a":-20,"d":-12},{"t":198,"a":-15,"d":-7},{"t":200,"a":-30,"d":-22},{"t":202,"a":-10,"d":-2},{"t":203.9,"a":-67,"d":-59},{"t":204.5,"a":-10,"d":-2},{"t":206,"a":-20,"d":-12},{"t":208,"a":-5,"d":3},{"t":210,"a":-15,"d":-15},{"t":212,"a":-5,"d":-5},{"t":213.5,"a":-25,"d":-25},{"t":215,"a":-10,"d":-10},{"t":217,"a":-20,"d":-20},{"t":219,"a":-5,"d":-5},{"t":221,"a":-15,"d":-15},{"t":222.5,"a":90,"d":90},{"t":222.6,"a":-77,"d":-77},{"t":223.5,"a":-10,"d":-10},{"t":225,"a":0,"d":0},{"t":228,"a":-5,"d":-5},{"t":231,"a":0,"d":0},{"t":234,"a":-5,"d":-5},{"t":237,"a":-3,"d":-3},{"t":240,"a":-5,"d":-5},{"t":243,"a":0,"d":0},{"t":243.8,"a":140,"d":140},{"t":244.4,"a":-10,"d":-10},{"t":246,"a":-20,"d":-20},{"t":249,"a":-15,"d":-15},{"t":252,"a":-25,"d":-25},{"t":255,"a":-18,"d":-18},{"t":258,"a":-22,"d":-22},{"t":261,"a":-15,"d":-15},{"t":264,"a":-25,"d":-25},{"t":267,"a":-12,"d":-12},{"t":270,"a":-20,"d":-20},{"t":273,"a":-15,"d":-15},{"t":276,"a":-25,"d":-25},{"t":276.8,"a":57,"d":57},{"t":277.5,"a":-10,"d":-10},{"t":280,"a":-30,"d":-30},{"t":283,"a":-25,"d":-25},{"t":286,"a":-35,"d":-35},{"t":289,"a":-20,"d":-20},{"t":292,"a":-30,"d":-30},{"t":295,"a":-25,"d":-25},{"t":298,"a":-35,"d":-35},{"t":300,"a":-10,"d":-10},{"t":303,"a":-5,"d":-5},{"t":306,"a":-8,"d":-8},{"t":307.1,"a":40,"d":40},{"t":308,"a":-3,"d":-3},{"t":311,"a":-8,"d":-8},{"t":314,"a":-5,"d":-5},{"t":317,"a":-10,"d":-10},{"t":320,"a":-5,"d":-5},{"t":323,"a":-8,"d":-8},{"t":325.8,"a":55,"d":55},{"t":326.5,"a":-5,"d":-5},{"t":329,"a":-10,"d":-10},{"t":330.5,"a":50,"d":50},{"t":331,"a":-5,"d":-5},{"t":334,"a":-10,"d":-10},{"t":337,"a":-5,"d":3},{"t":340,"a":-8,"d":0},{"t":343,"a":0,"d":8},{"t":346,"a":-10,"d":-2},{"t":348.6,"a":-20,"d":2},{"t":351,"a":-25,"d":-3},{"t":354,"a":-30,"d":-8},{"t":357,"a":-20,"d":2},{"t":359,"a":-60,"d":-38}
]
}
}
